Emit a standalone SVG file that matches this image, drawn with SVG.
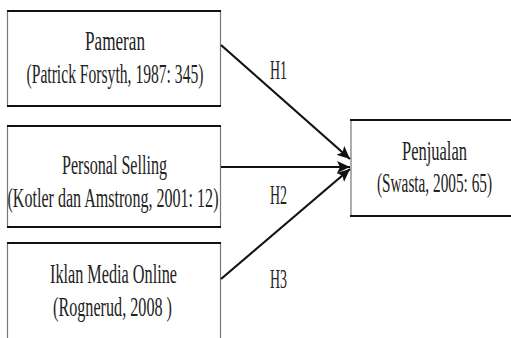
<svg xmlns="http://www.w3.org/2000/svg" width="511" height="338" viewBox="0 0 511 338">
<style>
.box{fill:#fff;stroke:#777;stroke-width:1.2}
.edge{stroke:#111;stroke-width:2.2}
.t{font-family:"Liberation Serif","Times New Roman",serif;font-size:27px;fill:#222;text-anchor:middle}
.conn{stroke:#111;stroke-width:2.2;fill:none}
</style>
<defs>
<marker id="ah" markerUnits="userSpaceOnUse" markerWidth="14" markerHeight="12" refX="13" refY="6" orient="auto">
<path d="M0,0 L13,6 L0,12 L3,6 Z" fill="#111"/>
</marker>
</defs>
<rect width="511" height="338" fill="#fff"/>
<g id="pameran">
<rect class="box" x="7.5" y="11" width="213" height="95"/>
<line class="edge" x1="7" y1="11" x2="221" y2="11"/>
<line class="edge" x1="7" y1="106" x2="221" y2="106"/>
<text class="t" x="115" y="50" textLength="60" lengthAdjust="spacingAndGlyphs">Pameran</text>
<text class="t" x="115" y="83" textLength="177" lengthAdjust="spacingAndGlyphs">(Patrick Forsyth, 1987: 345)</text>
</g>
<g id="personal-selling">
<rect class="box" x="7.5" y="126" width="213" height="101"/>
<line class="edge" x1="7" y1="126" x2="221" y2="126"/>
<line class="edge" x1="7" y1="227" x2="221" y2="227"/>
<text class="t" x="114.5" y="174" textLength="105" lengthAdjust="spacingAndGlyphs">Personal Selling</text>
<text class="t" x="113" y="207" textLength="211" lengthAdjust="spacingAndGlyphs">(Kotler dan Amstrong, 2001: 12)</text>
</g>
<g id="iklan">
<rect class="box" x="7.5" y="243" width="213" height="105"/>
<line class="edge" x1="7" y1="243" x2="221" y2="243"/>
<text class="t" x="113.5" y="283" textLength="127" lengthAdjust="spacingAndGlyphs">Iklan Media Online</text>
<text class="t" x="112.5" y="316" textLength="119" lengthAdjust="spacingAndGlyphs">(Rognerud, 2008 )</text>
</g>
<g id="penjualan">
<rect class="box" x="351" y="120" width="170" height="96"/>
<line class="edge" x1="350" y1="120" x2="511" y2="120"/>
<line class="edge" x1="350" y1="216" x2="511" y2="216"/>
<text class="t" x="434.5" y="160" textLength="65" lengthAdjust="spacingAndGlyphs">Penjualan</text>
<text class="t" x="434.5" y="192" textLength="115" lengthAdjust="spacingAndGlyphs">(Swasta, 2005: 65)</text>
</g>
<g id="connectors">
<line class="conn" x1="221" y1="45" x2="350" y2="159" marker-end="url(#ah)"/>
<line class="conn" x1="221" y1="167" x2="350" y2="167" marker-end="url(#ah)"/>
<line class="conn" x1="221" y1="279" x2="350" y2="169" marker-end="url(#ah)"/>
<text class="t" x="278.5" y="79" textLength="17" lengthAdjust="spacingAndGlyphs">H1</text>
<text class="t" x="278.5" y="204" textLength="17" lengthAdjust="spacingAndGlyphs">H2</text>
<text class="t" x="278.5" y="288" textLength="17" lengthAdjust="spacingAndGlyphs">H3</text>
</g>
</svg>
